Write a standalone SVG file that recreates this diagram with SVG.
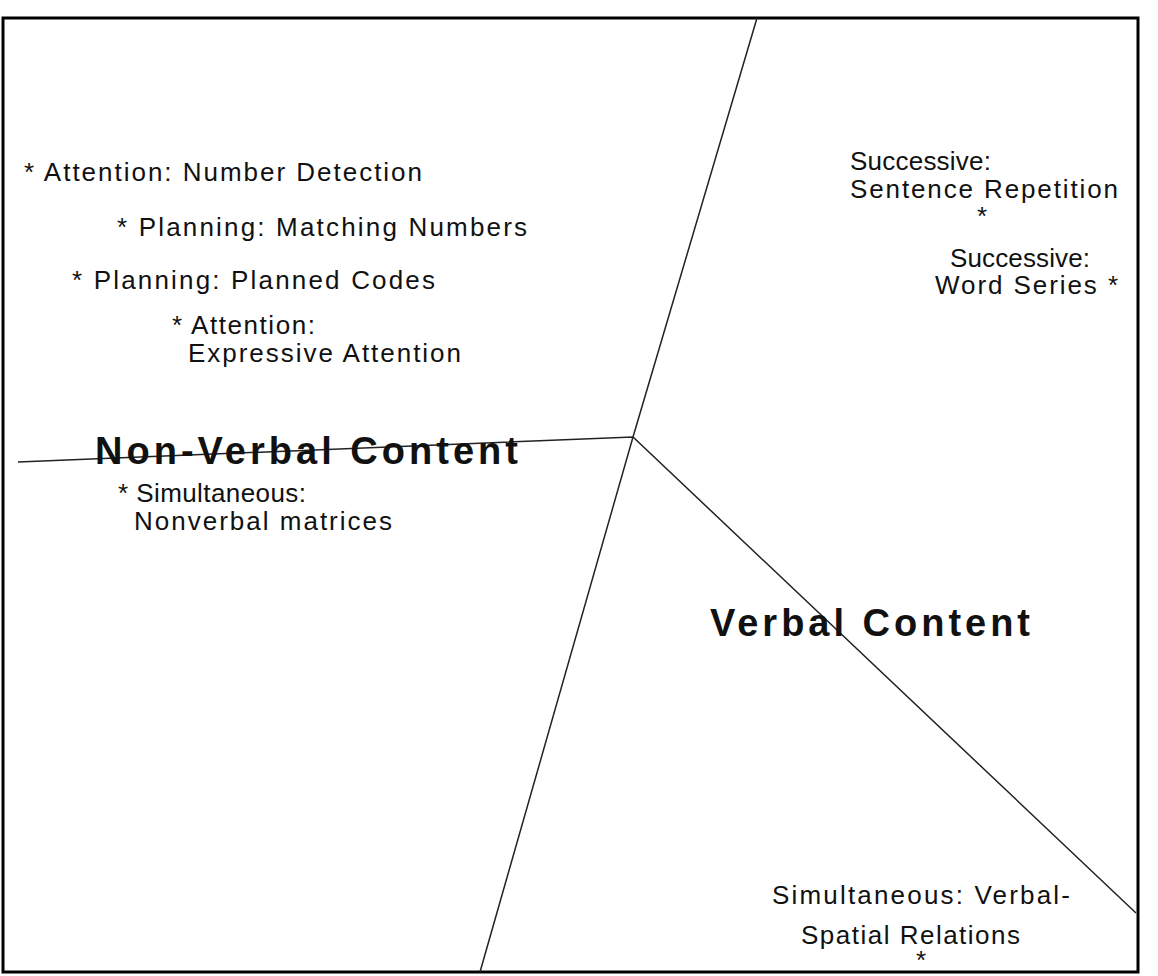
<svg xmlns="http://www.w3.org/2000/svg" width="1158" height="976" viewBox="0 0 1158 976">
<style>
.t{font-family:"Liberation Sans",Arial,sans-serif;font-size:26px;fill:#111}
.b{font-family:"Liberation Sans",Arial,sans-serif;font-size:38px;font-weight:bold;fill:#111}
.l{stroke:#222;stroke-width:1.5;fill:none}
</style>
<rect width="1158" height="976" fill="#fff"/>
<rect x="3" y="18" width="1135" height="954" fill="none" stroke="#000" stroke-width="3"/>
<g id="connectors">
<path class="l" d="M757 18 L633 437 L480 972"/>
<path class="l" d="M18 462 L633 437 L1136 913"/>
</g>
<g id="n1"><text class="t" x="24" y="181" textLength="398" lengthAdjust="spacing">* Attention: Number Detection</text></g>
<g id="n2"><text class="t" x="117" y="236" textLength="410" lengthAdjust="spacing">* Planning: Matching Numbers</text></g>
<g id="n3"><text class="t" x="72" y="289" textLength="363" lengthAdjust="spacing">* Planning: Planned Codes</text></g>
<g id="n4"><text class="t" x="172" y="334" textLength="143" lengthAdjust="spacing">* Attention:</text><text class="t" x="188" y="362" textLength="273" lengthAdjust="spacing">Expressive Attention</text></g>
<g id="n5"><text class="b" x="95" y="464" textLength="423" lengthAdjust="spacing">Non-Verbal Content</text></g>
<g id="n6"><text class="t" x="118" y="502" textLength="188" lengthAdjust="spacing">* Simultaneous:</text><text class="t" x="134" y="530" textLength="258" lengthAdjust="spacing">Nonverbal matrices</text></g>
<g id="n7"><text class="t" x="850" y="170" textLength="141" lengthAdjust="spacing">Successive:</text><text class="t" x="850" y="198" textLength="268" lengthAdjust="spacing">Sentence Repetition</text><text class="t" x="977" y="225">*</text></g>
<g id="n8"><text class="t" x="950" y="267" textLength="140" lengthAdjust="spacing">Successive:</text><text class="t" x="935" y="294" textLength="183" lengthAdjust="spacing">Word Series *</text></g>
<g id="n9"><text class="b" x="710" y="636" textLength="320" lengthAdjust="spacing">Verbal Content</text></g>
<g id="n10"><text class="t" x="772" y="904" textLength="298" lengthAdjust="spacing">Simultaneous: Verbal-</text><text class="t" x="801" y="944" textLength="219" lengthAdjust="spacing">Spatial Relations</text><text class="t" x="916" y="969">*</text></g>
</svg>
